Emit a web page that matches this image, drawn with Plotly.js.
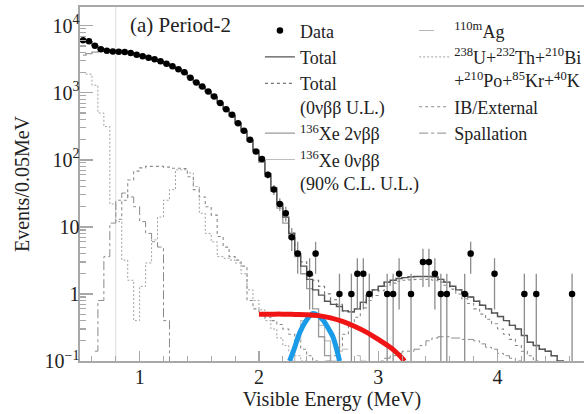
<!DOCTYPE html>
<html>
<head>
<meta charset="utf-8">
<script src="https://cdn.plot.ly/plotly-3.0.1.min.js"></script>
<style>
  html, body { margin: 0; padding: 0; background: #fff; }
  #chart { width: 584px; height: 414px; }
</style>
</head>
<body>
<div id="chart"></div>
<script>
// Bin centres of the 0.05 MeV visible-energy bins
const ENERGY = [
  0.525, 0.575, 0.625, 0.675, 0.725, 0.775, 0.825, 0.875, 0.925, 0.975,
  1.025, 1.075, 1.125, 1.175, 1.225, 1.275, 1.325, 1.375, 1.425, 1.475,
  1.525, 1.575, 1.625, 1.675, 1.725, 1.775, 1.825, 1.875, 1.925, 1.975,
  2.025, 2.075, 2.125, 2.175, 2.225, 2.275, 2.325, 2.375, 2.425, 2.475,
  2.525, 2.575, 2.625, 2.675, 2.725, 2.775, 2.825, 2.875, 2.925, 2.975,
  3.025, 3.075, 3.125, 3.175, 3.225, 3.275, 3.325, 3.375, 3.425, 3.475,
  3.525, 3.575, 3.625, 3.675, 3.725, 3.775, 3.825, 3.875, 3.925, 3.975,
  4.025, 4.075, 4.125, 4.175, 4.225, 4.275, 4.325, 4.375, 4.425, 4.475,
  4.525, 4.575, 4.625, 4.675, 4.725
];

// Observed events per bin
const DATA_COUNTS = [
  6080, 5870, 5020, 4460, 4240, 4130, 4100, 4050, 3930, 3690,
  3510, 3330, 3160, 2950, 2710, 2490, 2240, 2020, 1680, 1426,
  1242, 1045, 881, 702, 571, 470, 353, 271, 199, 133,
  103, 60, 36, 22, 16, 7, 4, 0, 2, 4,
  0, 0, 0, 1, 0, 1, 2, 2, 1, 0,
  0, 1, 1, 2, 0, 1, 0, 3, 3, 2,
  1, 1, 0, 0, 1, 4, 0, 0, 0, 2,
  0, 0, 0, 0, 1, 0, 1, 0, 0, 0,
  0, 0, 1, 0, 0
];

// Best-fit total
const TOTAL_FIT = [
  6000, 5800, 5050, 4450, 4250, 4140, 4090, 4030, 3920, 3700,
  3520, 3330, 3150, 2950, 2720, 2480, 2250, 2010, 1700, 1430,
  1230, 1050, 870, 710, 575, 460, 355, 270, 198, 138,
  98, 62, 38, 22, 14, 8, 4.0, 2.6, 1.65, 1.15,
  0.96, 0.78, 0.7, 0.65, 0.56, 0.54, 0.6, 0.75, 0.95, 1.15,
  1.3, 1.5, 1.6, 1.7, 1.75, 1.8, 1.82, 1.82, 1.82, 1.8,
  1.65, 1.5, 1.3, 1.15, 1.02, 0.9, 0.78, 0.68, 0.6, 0.52,
  0.46, 0.4, 0.34, 0.3, 0.24, 0.19, 0.17, 0.15, 0.14, 0.12,
  0.1, 0.08, null, null, null
];

// Total including the 0vbb upper limit
const TOTAL_UL = [
  null, null, null, null, null, null, null, null, null, null,
  null, null, null, null, null, null, null, null, null, null,
  null, null, null, null, null, null, null, null, null, null,
  null, null, null, 22, 14, 8.1, 4.2, 3.0, 2.1, 1.6,
  1.3, 1.0, 0.82, 0.7, 0.56, 0.54, 0.6, 0.75, 0.95, 1.15,
  1.3, 1.5, 1.6, 1.7, 1.75, 1.8, 1.82, 1.82, 1.82, 1.8,
  1.65, 1.5, 1.3, 1.15, 1.02, 0.9, 0.78, 0.68, 0.6, 0.52,
  0.46, 0.4, 0.34, 0.3, 0.24, 0.19, 0.17, 0.15, 0.14, 0.12,
  0.1, 0.08, null, null, null
];

// 136Xe 2vbb
const XE_2NU = [
  3650, 3850, 4050, 4150, 4150, 4100, 4050, 3990, 3880, 3680,
  3500, 3320, 3140, 2930, 2700, 2460, 2230, 1990, 1680, 1410,
  1210, 1030, 855, 695, 560, 450, 345, 262, 190, 130,
  92, 57, 34, 19, 11.4, 6.8, 3.6, 2.0, 1.2, 0.6,
  0.23, 0.12, 0.07, null, null, null, null, null, null, null,
  null, null, null, null, null, null, null, null, null, null,
  null, null, null, null, null, null, null, null, null, null,
  null, null, null, null, null, null, null, null, null, null,
  null, null, null, null, null
];

// 136Xe 0vbb, 90% C.L. upper limit
const XE_0NU_UL = [
  null, null, null, null, null, null, null, null, null, null,
  null, null, null, null, null, null, null, null, null, null,
  null, null, null, null, null, null, null, null, null, null,
  null, null, null, null, null, 0.1, 0.2, 0.4, 0.5, 0.45,
  0.34, 0.2, 0.1, 0.05, null, null, null, null, null, null,
  null, null, null, null, null, null, null, null, null, null,
  null, null, null, null, null, null, null, null, null, null,
  null, null, null, null, null, null, null, null, null, null,
  null, null, null, null, null
];

// 110mAg
const AG_110M = [
  null, null, null, null, null, null, null, null, null, null,
  null, null, null, null, null, null, null, null, null, null,
  null, null, null, null, null, null, null, null, null, null,
  null, null, null, null, null, null, null, null, null, null,
  0.08, 0.1, 0.12, 0.14, 0.15, 0.14, 0.12, 0.1, 0.08, null,
  null, null, null, null, null, null, null, null, null, null,
  null, null, null, null, null, null, null, null, null, null,
  null, null, null, null, null, null, null, null, null, null,
  null, null, null, null, null
];

// 238U + 232Th + 210Bi + 210Po + 85Kr + 40K
const U_TH_BI_PO_KR_K = [
  2000, 1900, 1300, 500, 314, 22, 12, 3.2, 1.6, 0.4,
  1.3, 2.9, 6.4, 14, 25, 36, 71, 71, 64, 40,
  16, 8, 6, 3.6, 3.4, 3.2, 2.9, 2.0, 1.15, 0.8,
  0.58, 0.4, 0.3, 0.22, 0.17, 0.14, 0.12, 0.1, 0.08, null,
  null, null, null, null, null, null, null, null, null, null,
  null, null, null, null, null, null, null, null, null, null,
  null, null, null, null, null, null, null, null, null, null,
  null, null, null, null, null, null, null, null, null, null,
  null, null, null, null, null
];

// Inner balloon / external
const IB_EXTERNAL = [
  null, null, null, null, null, null, 13, 25, 50, 68,
  76, 80, 80, 80, 78, 75, 75, 74, 56, 36,
  28, 20, 15, 7.2, 5, 3.6, 3.2, 2.6, 0.8, 0.6,
  0.5, 0.45, 0.4, 0.35, 0.3, 0.25, 0.2, 0.15, 0.12, 0.1,
  0.09, 0.1, 0.12, 0.16, 0.25, 0.35, 0.45, 0.62, 0.8, 0.95,
  1.12, 1.3, 1.45, 1.55, 1.6, 1.62, 1.65, 1.66, 1.65, 1.6,
  1.5, 1.35, 1.18, 1.0, 0.85, 0.72, 0.6, 0.5, 0.42, 0.36,
  0.3, 0.25, 0.21, 0.17, 0.14, 0.12, 0.1, 0.08, null, null,
  null, null, null, null, null
];

// Spallation products
const SPALLATION = [
  null, null, 0.14, 0.8, 3.6, 11.4, 25, 32, 28, 20,
  12, 8, 6, 5, 0.4, 0.08, null, null, null, null,
  null, null, null, null, null, null, null, null, null, null,
  null, null, null, null, null, null, null, null, null, null,
  null, null, null, null, null, null, null, null, null, 0.08,
  0.1, 0.11, 0.12, 0.13, 0.14, 0.14, 0.15, 0.17, 0.2, 0.22,
  0.23, 0.23, 0.22, 0.22, 0.21, 0.21, 0.2, 0.18, 0.16, 0.15,
  0.13, 0.12, 0.11, 0.1, 0.08, null, null, null, null, null,
  null, null, null, null, null
];

// Highlighted spectra drawn over the fit
const RED_E = [2.0, 2.1, 2.2, 2.3, 2.4, 2.5, 2.6, 2.7, 2.8, 2.9, 3.0, 3.1, 3.15, 3.2, 3.22];
const RED_Y = [0.5, 0.5, 0.5, 0.495, 0.49, 0.475, 0.44, 0.39, 0.33, 0.27, 0.21, 0.16, 0.135, 0.11, 0.1];
const BLUE_E = [2.257, 2.3, 2.34, 2.4, 2.453, 2.5, 2.536, 2.58, 2.62, 2.66, 2.676];
const BLUE_Y = [0.1, 0.16, 0.26, 0.41, 0.51, 0.47, 0.41, 0.31, 0.23, 0.13, 0.1];

// Analysis threshold marker
const THRESHOLD_E = 0.8;

const SERIF = 'Liberation Serif';

function step(y, name, color, dash, width, legend, rank) {
  return {
    x: ENERGY, y: y, name: name, type: 'scatter', mode: 'lines',
    line: { color: color, dash: dash, width: width, shape: 'hvh' },
    connectgaps: false, legend: legend, legendrank: rank, hoverinfo: 'skip'
  };
}

const dataY = DATA_COUNTS.map(n => (n > 0 ? n : null));
const dataErr = DATA_COUNTS.map(n => Math.sqrt(n));

const traces = [
  step(SPALLATION, 'Spallation', '#8a8a8a', 'dashdot', 1, 'legend2', 4),
  step(IB_EXTERNAL, 'IB/External', '#8a8a8a', 'dot', 1.1, 'legend2', 3),
  step(U_TH_BI_PO_KR_K, '<sup>238</sup>U+<sup>232</sup>Th+<sup>210</sup>Bi<br>+<sup>210</sup>Po+<sup>85</sup>Kr+<sup>40</sup>K',
       '#a0a0a0', '2px,2px', 1, 'legend2', 2),
  step(AG_110M, '<sup>110m</sup>Ag', '#b5b5b5', 'longdash', 1, 'legend2', 1),
  step(XE_0NU_UL, '<sup>136</sup>Xe 0νββ<br>(90% C.L. U.L.)', '#bdbdbd', 'solid', 1.2, 'legend', 5),
  step(XE_2NU, '<sup>136</sup>Xe 2νββ', '#9a9a9a', 'solid', 1.3, 'legend', 4),
  step(TOTAL_UL, 'Total<br>(0νββ U.L.)', '#777777', 'dot', 1.2, 'legend', 3),
  step(TOTAL_FIT, 'Total', '#555555', 'solid', 1.4, 'legend', 2),
  {
    x: ENERGY, y: dataY, name: 'Data', type: 'scatter', mode: 'markers',
    marker: { color: '#000', size: 6.5, symbol: 'circle' },
    error_y: { type: 'data', array: dataErr, color: '#8c8c8c', thickness: 1.3, width: 0 },
    legend: 'legend', legendrank: 1, hoverinfo: 'skip'
  },
  {
    x: BLUE_E, y: BLUE_Y, type: 'scatter', mode: 'lines', showlegend: false,
    line: { color: '#1a9be8', width: 5, shape: 'spline' }, hoverinfo: 'skip'
  },
  {
    x: RED_E, y: RED_Y, type: 'scatter', mode: 'lines', showlegend: false,
    line: { color: '#f01414', width: 5, shape: 'spline' }, hoverinfo: 'skip'
  }
];

// Minor tick positions on the log axis (2..9 within each decade)
const minorY = [];
for (let d = -1; d <= 4; d++) {
  for (let m = 2; m <= 9; m++) minorY.push(m * Math.pow(10, d));
}

const layout = {
  width: 584, height: 414,
  margin: { l: 80, r: 0, t: 7, b: 53, autoexpand: false },
  paper_bgcolor: '#fff', plot_bgcolor: '#fff',
  font: { family: SERIF, color: '#222', size: 18 },
  showlegend: true,
  xaxis: {
    range: [0.5, 4.725], automargin: false,
    showgrid: false, zeroline: false,
    showline: true, linecolor: '#a8a8a8', linewidth: 1.6, mirror: true,
    ticks: 'inside', ticklen: 10, tickwidth: 1.3, tickcolor: '#a8a8a8',
    tickvals: [1, 2, 3, 4], ticktext: ['1', '2', '3', '4'],
    tickfont: { family: SERIF, size: 20, color: '#222' },
    ticklabelstandoff: -3,
    minor: { dtick: 0.2, tick0: 0, ticks: 'inside', ticklen: 5, tickwidth: 1.1, tickcolor: '#a8a8a8', showgrid: false },
    title: { text: 'Visible Energy (MeV)', font: { family: SERIF, size: 20, color: '#222' }, standoff: 0 }
  },
  yaxis: {
    type: 'log', range: [-1, 4.28], automargin: false,
    showgrid: false, zeroline: false,
    showline: true, linecolor: '#a8a8a8', linewidth: 1.6,
    ticks: 'inside', ticklen: 13, tickwidth: 1.3, tickcolor: '#a8a8a8',
    tickvals: [0.1, 1, 10, 100, 1000, 10000],
    ticktext: ['10<sup>−1</sup>', '1', '10', '10<sup>2</sup>', '10<sup>3</sup>', '10<sup>4</sup>'],
    tickfont: { family: SERIF, size: 20, color: '#222' },
    ticklabelstandoff: -5,
    minor: { tickvals: minorY, ticks: 'inside', ticklen: 6, tickwidth: 1.1, tickcolor: '#a8a8a8', showgrid: false }
  },
  legend: {
    x: 0.357, y: 0.985, xanchor: 'left', yanchor: 'top',
    bgcolor: 'rgba(0,0,0,0)', borderwidth: 0, valign: 'top',
    font: { family: SERIF, size: 18, color: '#222' },
    tracegroupgap: 0, itemwidth: 30, traceorder: 'normal'
  },
  legend2: {
    x: 0.663, y: 0.985, xanchor: 'left', yanchor: 'top',
    bgcolor: 'rgba(0,0,0,0)', borderwidth: 0, valign: 'top',
    font: { family: SERIF, size: 18, color: '#222' },
    tracegroupgap: 0, itemwidth: 30, traceorder: 'normal'
  },
  shapes: [{
    type: 'line', xref: 'x', yref: 'paper',
    x0: THRESHOLD_E, x1: THRESHOLD_E, y0: 0, y1: 1,
    line: { color: '#dcdcdc', width: 1 }, layer: 'below'
  }],
  annotations: [
    {
      text: '(a) Period-2', xref: 'paper', yref: 'paper',
      x: 0.2, y: 0.95, xanchor: 'center', yanchor: 'middle', showarrow: false,
      font: { family: SERIF, size: 21, color: '#222' }
    },
    {
      text: 'Events/0.05MeV', xref: 'paper', yref: 'paper',
      x: -0.115, y: 0.5, xanchor: 'center', yanchor: 'middle', showarrow: false,
      textangle: -90, font: { family: SERIF, size: 20, color: '#222' }
    }
  ]
};

Plotly.newPlot('chart', traces, layout, { staticPlot: true, displayModeBar: false });
</script>
</body>
</html>
